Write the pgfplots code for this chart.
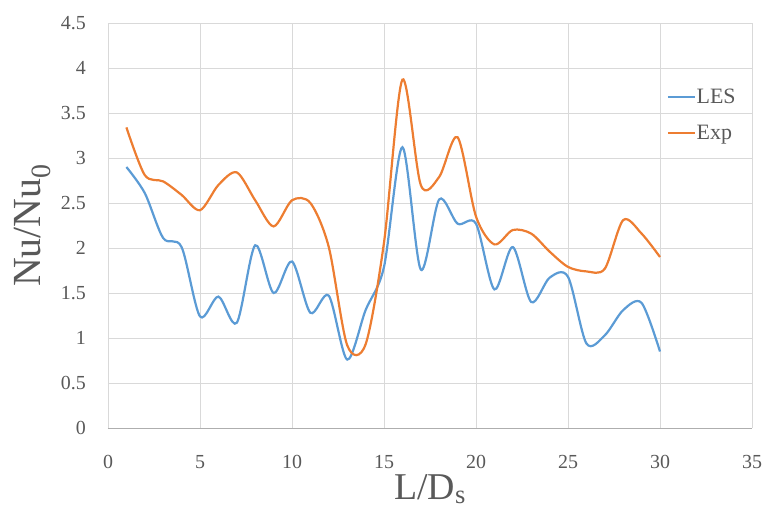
\documentclass[border=0pt]{standalone}
\usepackage{pgfplots}
\pgfplotsset{compat=1.18}
\usepackage{fontspec}
\setmainfont{Liberation Serif}
\definecolor{lesblue}{HTML}{5B9BD5}
\definecolor{exporange}{HTML}{ED7D31}
\definecolor{txtgray}{HTML}{595959}
\definecolor{gridgray}{HTML}{D9D9D9}
\pgfplotstableread{
x les exp
1 2.90 3.34
2 2.61 2.81
3 2.11 2.74
4 2.01 2.59
5 1.24 2.42
6 1.46 2.70
7 1.17 2.84
8 2.03 2.53
9 1.50 2.24
10 1.85 2.53
11 1.28 2.50
12 1.47 2.01
13 0.76 0.92
14 1.31 0.93
15 1.79 2.06
16 3.12 3.87
17 1.76 2.70
18 2.54 2.79
19 2.27 3.23
20 2.27 2.35
21 1.54 2.04
22 2.01 2.20
23 1.40 2.16
24 1.67 1.96
25 1.68 1.79
26 0.94 1.74
27 1.03 1.77
28 1.31 2.31
29 1.39 2.16
30 0.85 1.90
}\datatable
\begin{document}
\begin{tikzpicture}
\useasboundingbox (-108bp,-98bp) rectangle (659bp,428bp);
\begin{axis}[
  at={(0bp,0bp)}, anchor=south west,
  scale only axis, width=644bp, height=405bp,
  xmin=0, xmax=35, ymin=0, ymax=4.5,
  xtick={0,5,...,35}, ytick={0,0.5,...,4.5},
  grid=major, major grid style={gridgray, line width=0.8bp},
  axis x line*=bottom, axis y line*=left,
  x axis line style={draw=gridgray!80!black, line width=0.9bp, -},
  y axis line style={draw=gridgray, line width=0.8bp, -},
  tick style={draw=none},
  /pgf/number format/assume math mode=true,
  ticklabel style={font=\fontsize{20}{24}\selectfont, text=txtgray, inner sep=0pt},
  yticklabel style={anchor=east, xshift=-22bp},
  xticklabel style={anchor=north, yshift=-27bp},
  xlabel={L/D\textsubscript{s}},
  ylabel={Nu/Nu\textsubscript{0}},
  xlabel style={font=\fontsize{38}{44}\selectfont, text=txtgray, at={(axis description cs:0.5,-0.15)}, anchor=center},
  ylabel style={font=\fontsize{40}{46}\selectfont, text=txtgray, at={(axis description cs:-0.118,0.5)}, anchor=center, rotate=0},
  legend style={draw=none, fill=none, at={(rel axis cs:0.868,0.84)}, anchor=north west,
    font=\fontsize{22}{26}\selectfont, text=txtgray, row sep=18bp, inner sep=0pt,
    nodes={inner sep=1bp}},
  legend cell align=left,
  legend image code/.code={\draw[#1, line width=1.5bp] (0bp,0bp) -- (27bp,0bp);},
]
\addplot[lesblue, line width=2.2bp, smooth] table[x=x, y=les] {\datatable};
\addlegendentry{LES}
\addplot[exporange, line width=2.2bp, smooth] table[x=x, y=exp] {\datatable};
\addlegendentry{Exp}
\end{axis}
\end{tikzpicture}
\end{document}
